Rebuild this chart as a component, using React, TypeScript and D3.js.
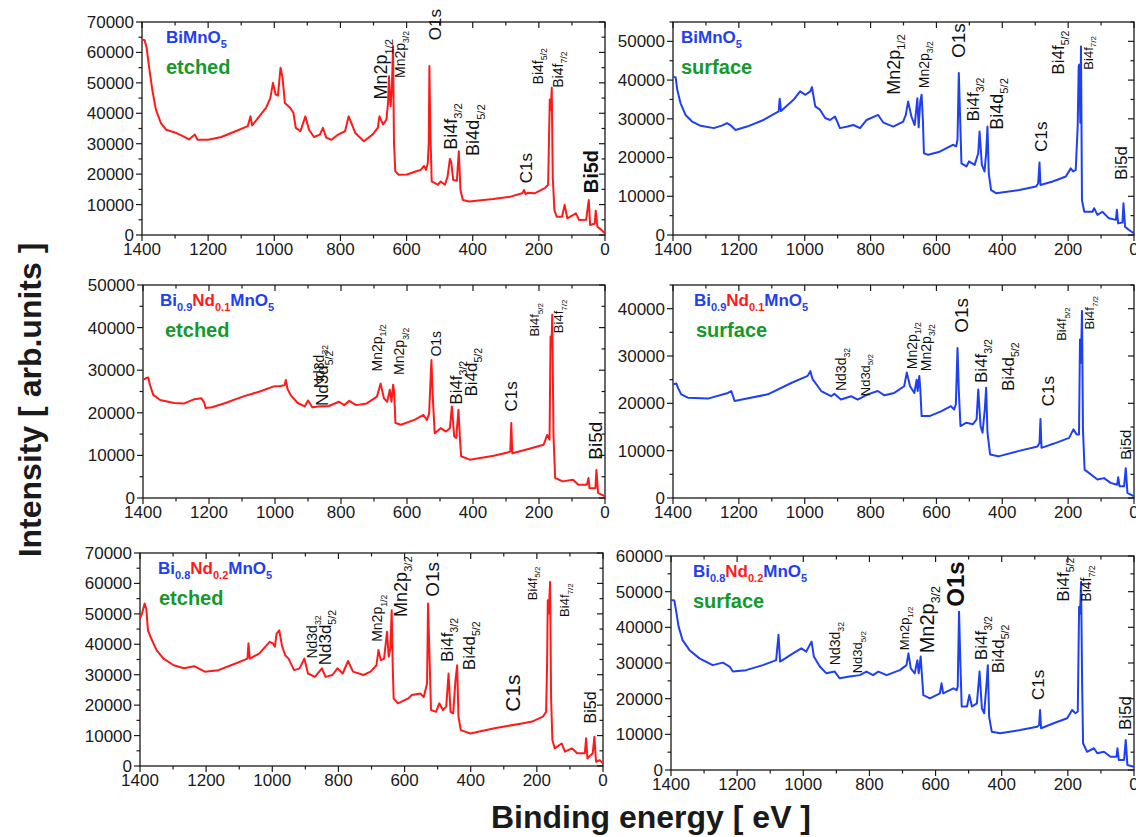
import React from 'react';
import * as d3 from 'd3';

type Pt = [number, number];

// XPS survey spectra: [binding energy (eV), intensity (counts)]
const bimnoEtched: Pt[] = [
  [1400, 64300], [1392, 64000], [1386, 61500], [1379, 55500], [1369, 47800], [1358, 41200], [1343, 36800],
  [1327, 34600], [1296, 33500], [1275, 32400], [1258, 31400], [1240, 33000], [1232, 31300], [1200, 31300],
  [1160, 32200], [1119, 34000], [1080, 35800], [1072, 39000], [1067, 36000], [1025, 41800], [1012, 45000],
  [1004, 50000], [996, 46200], [989, 45800], [981, 55000], [975, 51700], [968, 43400], [952, 41800],
  [942, 40100], [935, 35200], [921, 34100], [906, 39000], [895, 34600], [880, 32200], [862, 33000],
  [853, 35200], [843, 32000], [827, 31300], [807, 33000], [786, 34100], [775, 39000], [765, 36300],
  [755, 33500], [729, 30800], [703, 33000], [687, 35200], [682, 39000], [671, 36300], [661, 37900],
  [656, 43400], [653, 52200], [651, 46000], [648, 42300], [644, 50000], [641, 62100], [638, 30200],
  [634, 20900], [624, 19800], [599, 19900], [575, 20800], [557, 21400], [547, 22700], [541, 21400],
  [536, 23600], [533, 30000], [531, 55500], [528, 33500], [524, 17600], [505, 16500], [497, 17600],
  [484, 16500], [476, 19200], [469, 25000], [465, 24000], [459, 18100], [448, 17800], [442, 27500],
  [437, 14800], [430, 11500], [411, 11000], [338, 11800], [286, 12600], [250, 13700], [245, 14800],
  [240, 13400], [234, 13900], [213, 13700], [182, 15400], [172, 16500], [167, 44500], [164, 41000],
  [161, 48400], [158, 19200], [153, 8200], [146, 6000], [130, 6000], [122, 9900], [114, 5500], [88, 7100],
  [78, 4900], [57, 5000], [49, 11500], [45, 3300], [31, 3800], [28, 8000], [23, 2700], [10, 1600], [0, 500],
];

const bimnoSurface: Pt[] = [
  [1400, 40900], [1392, 40700], [1387, 37500], [1377, 34000], [1362, 31000], [1342, 29300], [1316, 28200],
  [1276, 27600], [1250, 28300], [1236, 28900], [1226, 28400], [1210, 27100], [1175, 28000], [1125, 29700],
  [1079, 31900], [1076, 35200], [1072, 32000], [1034, 34900], [1014, 37100], [998, 36200], [983, 37100],
  [978, 38200], [968, 33200], [953, 32300], [938, 30200], [923, 29700], [908, 30600], [893, 27600],
  [870, 28000], [852, 28400], [832, 27600], [812, 29700], [777, 31000], [761, 29000], [731, 28000],
  [701, 29300], [693, 31000], [686, 34500], [676, 30600], [666, 28400], [658, 35300], [654, 27800],
  [649, 34600], [645, 36200], [641, 29500], [638, 21100], [625, 20700], [590, 21500], [550, 23300],
  [540, 22900], [536, 24600], [532, 41800], [529, 33000], [524, 18500], [509, 17700], [501, 19000],
  [484, 18100], [473, 21100], [469, 26700], [462, 18100], [454, 16400], [449, 21100], [445, 28000],
  [441, 15900], [434, 11600], [419, 10800], [348, 11600], [298, 12500], [291, 13300], [287, 18700],
  [284, 12900], [247, 13800], [207, 15100], [192, 17200], [185, 16400], [177, 16800], [171, 28000],
  [168, 43500], [166, 44000], [163, 29000], [161, 48700], [158, 9000], [151, 6000], [126, 6000],
  [121, 6900], [111, 5200], [96, 6000], [76, 4300], [55, 3900], [52, 6500], [48, 3000], [35, 3200],
  [32, 8200], [27, 2100], [15, 1300], [0, 400],
];

const bnd1Etched: Pt[] = [
  [1400, 27700], [1392, 28100], [1384, 28300], [1379, 26600], [1369, 24200], [1348, 23000], [1306, 22300],
  [1275, 22200], [1244, 23200], [1223, 23400], [1215, 22500], [1210, 21100], [1191, 21300], [1150, 22300],
  [1098, 23800], [1046, 25000], [1004, 26200], [983, 26300], [971, 26500], [967, 27700], [962, 25600],
  [952, 24100], [931, 22300], [910, 21500], [900, 22900], [887, 21300], [868, 21500], [837, 21600],
  [806, 22600], [790, 21800], [775, 22800], [754, 21800], [722, 22200], [691, 23800], [680, 26900],
  [670, 23400], [660, 22600], [652, 25400], [647, 22600], [642, 26600], [639, 25000], [635, 17600],
  [618, 17200], [576, 18400], [550, 19500], [540, 18300], [533, 19800], [526, 32400], [522, 23800],
  [516, 15200], [498, 16400], [482, 15600], [470, 16400], [464, 21500], [457, 14500], [451, 14100],
  [444, 20700], [440, 14500], [436, 9800], [410, 9000], [337, 9900], [295, 10700], [287, 10900],
  [284, 17600], [281, 10500], [232, 11500], [186, 12500], [175, 14800], [168, 13700], [165, 37900],
  [162, 35500], [160, 43000], [156, 14500], [151, 4700], [128, 3900], [97, 4300], [81, 3100], [55, 3100],
  [50, 4700], [47, 2300], [29, 2300], [26, 6600], [21, 1200], [0, 400],
];

const bnd1Surface: Pt[] = [
  [1400, 24000], [1390, 24200], [1385, 23300], [1375, 21900], [1355, 21200], [1294, 21000], [1233, 22200],
  [1223, 22600], [1213, 20500], [1183, 20900], [1112, 21900], [1041, 24300], [991, 25800], [983, 26800],
  [976, 25100], [950, 22600], [920, 21500], [910, 22000], [890, 20800], [859, 21500], [839, 20800],
  [809, 21900], [778, 22600], [758, 21700], [728, 22200], [698, 23600], [690, 26500], [680, 23600],
  [667, 22200], [660, 25000], [657, 22600], [652, 25800], [649, 23000], [645, 17300], [621, 17300],
  [586, 18300], [556, 19400], [546, 18700], [541, 19800], [536, 31700], [532, 22600], [527, 15200],
  [509, 15900], [489, 15600], [478, 16600], [473, 22900], [466, 15200], [460, 13800], [453, 18800],
  [449, 23300], [445, 13800], [437, 9200], [412, 8800], [352, 9900], [293, 10900], [287, 11600],
  [284, 16700], [281, 10600], [243, 11500], [197, 12700], [184, 14500], [174, 13400], [167, 13400],
  [164, 33500], [161, 28600], [158, 39500], [155, 14500], [150, 6000], [111, 3900], [91, 4200],
  [71, 3200], [51, 2800], [48, 4400], [44, 2500], [30, 2500], [25, 6300], [20, 1100], [0, 350],
];

const bnd2Etched: Pt[] = [
  [1400, 48500], [1394, 50100], [1386, 53400], [1381, 51700], [1376, 44600], [1366, 41900], [1350, 38100],
  [1329, 35300], [1298, 33100], [1267, 32100], [1236, 32800], [1204, 31000], [1163, 31500], [1111, 33700],
  [1075, 35300], [1072, 40300], [1068, 35300], [1039, 37000], [1008, 40800], [998, 40300], [992, 39200],
  [987, 43500], [979, 44600], [971, 39700], [961, 36400], [951, 35300], [934, 31500], [918, 32000],
  [903, 35300], [892, 30400], [871, 29300], [850, 32100], [839, 29300], [818, 29900], [803, 32100],
  [787, 30400], [771, 34500], [756, 31000], [724, 29900], [703, 31000], [685, 33100], [679, 38100],
  [672, 34800], [662, 35300], [653, 44100], [648, 35900], [643, 38600], [639, 51200], [636, 33800],
  [633, 22200], [620, 20600], [589, 22200], [578, 23300], [552, 23800], [542, 22700], [532, 27100],
  [529, 53400], [524, 33800], [520, 18400], [505, 17800], [495, 20600], [484, 18400], [474, 19500],
  [467, 30400], [461, 17800], [453, 17300], [446, 28200], [441, 33100], [437, 16200], [430, 11800],
  [401, 10700], [328, 12400], [245, 14000], [214, 14600], [182, 16200], [172, 17800], [169, 33800],
  [167, 54500], [164, 50100], [160, 60500], [157, 22500], [153, 8500], [146, 5800], [125, 7400],
  [115, 4700], [94, 5800], [78, 4200], [55, 4200], [51, 9100], [47, 2500], [31, 4200], [26, 9600],
  [21, 1400], [10, 1900], [0, 900],
];

const bnd2Surface: Pt[] = [
  [1400, 47700], [1390, 47500], [1385, 44900], [1377, 40200], [1365, 36400], [1344, 33600], [1314, 31300],
  [1274, 29400], [1243, 30100], [1223, 29000], [1213, 27600], [1173, 28000], [1122, 29400], [1082, 30800],
  [1075, 37900], [1070, 30400], [1031, 32700], [1006, 34100], [991, 33200], [975, 36000], [968, 31800],
  [950, 29000], [930, 27100], [905, 27600], [890, 25700], [860, 26200], [829, 26600], [809, 27600],
  [789, 26600], [773, 27600], [748, 26600], [708, 28000], [688, 29400], [682, 32700], [675, 28500],
  [663, 27100], [655, 30800], [651, 27100], [645, 31800], [641, 26200], [637, 21000], [617, 20100],
  [587, 21500], [582, 24300], [577, 21500], [546, 22900], [536, 22400], [533, 23400], [529, 44400],
  [525, 29900], [521, 17800], [505, 17800], [498, 21000], [490, 17800], [475, 18700], [467, 27600],
  [460, 17300], [453, 15900], [445, 25200], [442, 29400], [438, 14900], [430, 10700], [405, 10300],
  [344, 11200], [293, 12100], [287, 12600], [284, 16800], [281, 11700], [243, 13100], [202, 14500],
  [187, 16800], [177, 15900], [170, 16400], [166, 45800], [163, 43900], [160, 52800], [157, 25200],
  [154, 7500], [142, 5100], [121, 6100], [111, 4700], [91, 5100], [71, 3700], [53, 3700], [50, 6100],
  [46, 2800], [30, 2800], [25, 8400], [20, 1400], [0, 900],
];

// Axis ranges
const beTicks = [1400, 1200, 1000, 800, 600, 400, 200, 0];
const yMaxes = [70000, 55000, 50000, 45000, 70000, 60000];

// Sample names (parts with sub-scripts) and conditions
type Part = { t: string; sub?: boolean; red?: boolean };
const nameBiMnO5: Part[] = [{ t: 'BiMnO' }, { t: '5', sub: true }];
const nameNd01: Part[] = [
  { t: 'Bi' }, { t: '0.9', sub: true }, { t: 'Nd', red: true }, { t: '0.1', sub: true, red: true },
  { t: 'MnO' }, { t: '5', sub: true },
];
const nameNd02: Part[] = [
  { t: 'Bi' }, { t: '0.8', sub: true }, { t: 'Nd', red: true }, { t: '0.2', sub: true, red: true },
  { t: 'MnO' }, { t: '5', sub: true },
];

// Peak annotations: text, subscript, binding energy of baseline, intensity at text start, font size, bold
type Peak = [string, string, number, number, number, boolean?];
const peaks1: Peak[] = [
  ['Mn2p', '1/2', 658, 44500, 18], ['Mn2p', '3/2', 604, 51600, 14], ['O1s', '', 496, 64000, 17],
  ['Bi4f', '3/2', 448, 28000, 18], ['Bi4d', '5/2', 380, 26000, 18], ['C1s', '', 222, 17000, 17],
  ['Bi4f', '5/2', 187, 49500, 14], ['Bi4f', '7/2', 128, 48400, 14], ['Bi5d', '', 21, 13700, 20, true],
];
const peaks2: Peak[] = [
  ['Mn2p', '1/2', 711, 36200, 18], ['Mn2p', '3/2', 622, 37900, 14], ['O1s', '', 514, 45700, 19],
  ['Bi4f', '3/2', 471, 29300, 17], ['Bi4d', '5/2', 398, 27200, 18], ['C1s', '', 265, 21500, 17],
  ['Bi4f', '5/2', 212, 41400, 17], ['Bi4f', '7/2', 126, 42700, 13], ['Bi5d', '', 20, 14200, 17],
];
const peaks3: Peak[] = [
  ['Nd3d', '32', 853, 25800, 14], ['Nd3d', '5/2', 839, 21600, 17],
  ['Mn2p', '1/2', 675, 29700, 14], ['Mn2p', '3/2', 608, 28900, 14], ['O1s', '', 498, 33200, 14],
  ['Bi4f', '3/2', 433, 21900, 17], ['Bi4d', '5/2', 389, 23800, 17], ['C1s', '', 266, 20300, 17],
  ['Bi4f', '5/2', 201, 37900, 13], ['Bi4f', '7/2', 128, 38700, 13], ['Bi5d', '', 8, 9000, 19],
];
const peaks4: Peak[] = [
  ['Nd3d', '32', 874, 22600, 14], ['Nd3d', '5/2', 803, 21500, 13],
  ['Mn2p', '1/2', 659, 27200, 14], ['Mn2p', '3/2', 617, 26800, 14], ['O1s', '', 505, 34900, 19],
  ['Bi4f', '3/2', 447, 24300, 17], ['Bi4d', '5/2', 364, 22600, 17], ['C1s', '', 243, 19400, 17],
  ['Bi4f', '5/2', 207, 33200, 13], ['Bi4f', '7/2', 121, 35600, 13], ['Bi5d', '', 10, 8100, 15],
];
const peaks5: Peak[] = [
  ['Nd3d', '32', 865, 35300, 14], ['Nd3d', '5/2', 823, 33100, 17],
  ['Mn2p', '1/2', 667, 40800, 14], ['Mn2p', '3/2', 594, 49000, 18], ['O1s', '', 495, 55600, 19],
  ['Bi4f', '3/2', 453, 34200, 17], ['Bi4d', '5/2', 386, 31500, 17], ['C1s', '', 250, 17800, 21],
  ['Bi4f', '5/2', 201, 54500, 13], ['Bi4f', '7/2', 104, 49000, 13], ['Bi5d', '', 21, 14000, 16],
];
const peaks6: Peak[] = [
  ['Nd3d', '32', 889, 29400, 14], ['Nd3d', '5/2', 821, 27100, 13],
  ['Mn2p', '1/2', 679, 33600, 13], ['Mn2p', '3/2', 606, 32700, 20], ['O1s', '', 515, 45800, 24, true],
  ['Bi4f', '3/2', 445, 30800, 17], ['Bi4d', '5/2', 392, 27100, 17], ['C1s', '', 271, 19600, 17],
  ['Bi4f', '5/2', 197, 47200, 17], ['Bi4f', '7/2', 131, 47200, 14], ['Bi5d', '', 10, 11200, 17],
];

const RED = '#ff1a1a';
const BLUE = '#1f40f2';
const GREEN = '#14992c';
const INK = '#1a1a1a';
const FONT = "'Liberation Sans', Arial, sans-serif";

type PanelSpec = {
  data: Pt[]; color: string; yMax: number; name: Part[]; cond: string; peaks: Peak[];
  left: number; right: number; top: number; bottom: number; nameDx: number; condDx: number;
};

const panels: PanelSpec[] = [
  { data: bimnoEtched, color: RED, yMax: yMaxes[0], name: nameBiMnO5, cond: 'etched', peaks: peaks1, left: 142, right: 605, top: 22, bottom: 235, nameDx: 24, condDx: 24 },
  { data: bimnoSurface, color: BLUE, yMax: yMaxes[1], name: nameBiMnO5, cond: 'surface', peaks: peaks2, left: 673, right: 1134, top: 22, bottom: 235, nameDx: 8, condDx: 8 },
  { data: bnd1Etched, color: RED, yMax: yMaxes[2], name: nameNd01, cond: 'etched', peaks: peaks3, left: 143, right: 605, top: 285, bottom: 498, nameDx: 17, condDx: 22 },
  { data: bnd1Surface, color: BLUE, yMax: yMaxes[3], name: nameNd01, cond: 'surface', peaks: peaks4, left: 673, right: 1134, top: 285, bottom: 498, nameDx: 21, condDx: 23 },
  { data: bnd2Etched, color: RED, yMax: yMaxes[4], name: nameNd02, cond: 'etched', peaks: peaks5, left: 140, right: 603, top: 553, bottom: 766, nameDx: 18, condDx: 19 },
  { data: bnd2Surface, color: BLUE, yMax: yMaxes[5], name: nameNd02, cond: 'surface', peaks: peaks6, left: 671, right: 1134, top: 556, bottom: 770, nameDx: 22, condDx: 22 },
];

function Panel({ p }: { p: PanelSpec }) {
  const x = d3.scaleLinear().domain([1400, 0]).range([p.left, p.right]);
  const y = d3.scaleLinear().domain([0, p.yMax]).range([p.bottom, p.top]);
  const line = d3.line<Pt>().x((d) => x(d[0])).y((d) => y(d[1]));
  const yTicks = d3.range(0, p.yMax + 1, 5000);
  const xTicks = d3.range(0, 1401, 100);

  return (
    <g>
      {/* frame */}
      <rect x={p.left} y={p.top} width={p.right - p.left} height={p.bottom - p.top} fill="none" stroke={INK} strokeWidth={1.3} />
      {/* y ticks: outside on the left, inside on the right */}
      {yTicks.map((v) => {
        const major = v % 10000 === 0;
        const len = major ? 6 : 3.5;
        return (
          <g key={'y' + v}>
            <line x1={p.left - len} x2={p.left} y1={y(v)} y2={y(v)} stroke={INK} strokeWidth={1.2} />
            <line x1={p.right - len} x2={p.right} y1={y(v)} y2={y(v)} stroke={INK} strokeWidth={1.2} />
            {major && (
              <text x={p.left - 8} y={y(v)} dy="0.35em" textAnchor="end" fontSize={17} fontFamily={FONT} fill={INK}>
                {v}
              </text>
            )}
          </g>
        );
      })}
      {/* x ticks: outside at the bottom, inside at the top */}
      {xTicks.map((v) => {
        const major = v % 200 === 0;
        const len = major ? 6 : 3.5;
        return (
          <g key={'x' + v}>
            <line x1={x(v)} x2={x(v)} y1={p.bottom} y2={p.bottom + len} stroke={INK} strokeWidth={1.2} />
            <line x1={x(v)} x2={x(v)} y1={p.top} y2={p.top + len} stroke={INK} strokeWidth={1.2} />
          </g>
        );
      })}
      {beTicks.map((v) => (
        <text key={'xl' + v} x={x(v)} y={p.bottom + 20} textAnchor="middle" fontSize={17} fontFamily={FONT} fill={INK}>
          {v}
        </text>
      ))}
      {/* spectrum */}
      <path d={line(p.data) || ''} fill="none" stroke={p.color} strokeWidth={2} strokeLinejoin="round" />
      {/* sample name and condition */}
      <text x={p.left + p.nameDx} y={p.top + 21} fontSize={17} fontWeight="bold" fontFamily={FONT}>
        {p.name.map((part, i) => {
          const prev = i > 0 ? p.name[i - 1] : null;
          let dy = 0;
          if (part.sub) dy = 5;
          else if (prev && prev.sub) dy = -5;
          return (
            <tspan key={i} fill={part.red ? RED : BLUE} fontSize={part.sub ? 11 : 17} dy={dy}>
              {part.t}
            </tspan>
          );
        })}
      </text>
      <text x={p.left + p.condDx} y={p.top + 52} fontSize={20} fontWeight="bold" fontFamily={FONT} fill={GREEN}>
        {p.cond}
      </text>
      {/* peak annotations */}
      {p.peaks.map(([t, sub, be, iv, size, bold], i) => (
        <text
          key={'pk' + i}
          transform={`translate(${x(be)},${y(iv)}) rotate(-90)`}
          fontSize={size}
          fontFamily={FONT}
          fontWeight={bold ? 'bold' : 'normal'}
          fill="#111"
        >
          {t}
          {sub && (
            <tspan fontSize={size * 0.62} dy={size * 0.3}>
              {sub}
            </tspan>
          )}
        </text>
      ))}
    </g>
  );
}

export default function App() {
  return (
    <svg
      width={1136}
      height={837}
      viewBox="0 0 1136 837"
      style={{ position: 'absolute', left: 0, top: 0, background: '#fff' }}
    >
      <rect x={0} y={0} width={1136} height={837} fill="#fff" />
      {panels.map((p, i) => (
        <Panel key={i} p={p} />
      ))}
      <text
        transform="translate(41,400) rotate(-90)"
        textAnchor="middle"
        fontSize={32}
        fontWeight="bold"
        fontFamily={FONT}
        fill={INK}
      >
        Intensity [ arb.units ]
      </text>
      <text x={651} y={828} textAnchor="middle" fontSize={32} fontWeight="bold" fontFamily={FONT} fill={INK}>
        Binding energy [ eV ]
      </text>
    </svg>
  );
}
